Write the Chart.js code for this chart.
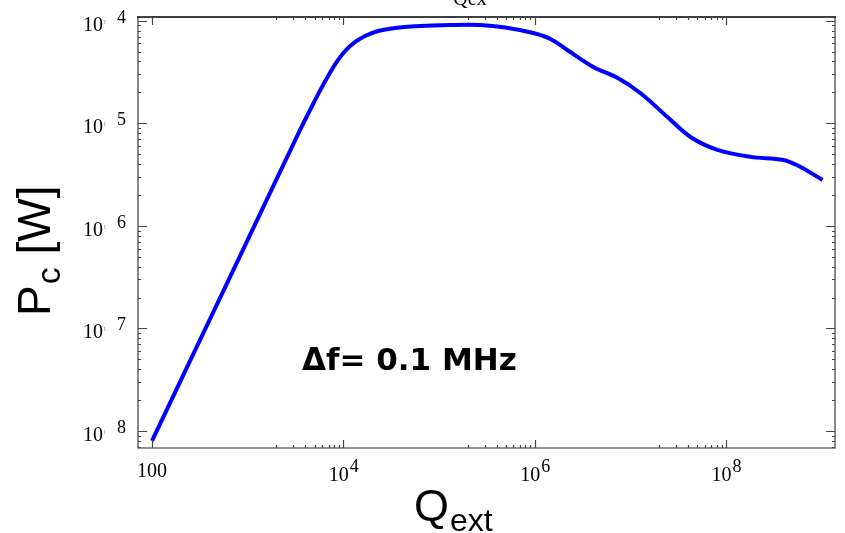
<!DOCTYPE html>
<html>
<head>
<meta charset="utf-8">
<script src="https://cdn.jsdelivr.net/npm/chart.js@4/dist/chart.umd.min.js"></script>
<style>
  html, body { margin: 0; padding: 0; background: #ffffff; }
  #wrap { width: 845px; height: 533px; position: relative; }
</style>
</head>
<body>
<div id="wrap"><canvas id="chart" width="845" height="533"></canvas></div>
<script>
// Coupled power P_c versus external quality factor Q_ext (log-log)
const qext = [1e2, 3.18e2, 1.06e3, 3.53e3, 4.50e3, 5.72e3, 7.28e3, 8.82e3, 1.07e4, 1.33e4,
              1.69e4, 2.31e4, 3.48e4, 5.64e4, 1.31e5, 2.70e5, 4.92e5, 9.66e5, 1.46e6,
              2.19e6, 4.10e6, 7.31e6, 1.27e7, 2.44e7, 4.25e7, 8.13e7, 1.80e8, 3.98e8,
              6.0e8, 1.02e9];
const pc   = [8.0e-9, 7.72e-8, 8.15e-7, 8.60e-6, 1.35e-5, 2.09e-5, 3.13e-5, 4.14e-5, 5.18e-5, 6.20e-5,
              7.09e-5, 7.93e-5, 8.49e-5, 8.82e-5, 9.08e-5, 9.08e-5, 8.59e-5, 7.59e-5, 6.64e-5,
              5.18e-5, 3.54e-5, 2.77e-5, 1.97e-5, 1.15e-5, 7.35e-6, 5.5e-6, 4.7e-6, 4.39e-6,
              3.75e-6, 2.8e-6];

// Axis ticks
const xMajorTicks = [1e2, 1e4, 1e6, 1e8];
const xTickBase   = ['100', '10', '10', '10'];
const xTickExp    = ['', '4', '6', '8'];
const xMinorDecades = [1e3, 1e5, 1e7];
const yMajorTicks = [1e-8, 1e-7, 1e-6, 1e-5, 1e-4];
const yTickExp    = ['8', '7', '6', '5', '4'];
const yMinorDecades = [1e-9, 1e-8, 1e-7, 1e-6, 1e-5];
const minorMultipliers = [2, 3, 4, 5, 6, 7, 8, 9];

const xRange = [71.4, 1.377e9];
const yRange = [6.82e-9, 1.086e-4];

const annotationText = '\u0394f= 0.1 MHz';
const topTitle = 'Qex';

const serif = "'Liberation Serif', 'Times New Roman', serif";
const sans  = "'Liberation Sans', Arial, sans-serif";

function minorList(decades, range) {
  const out = [];
  decades.forEach(d => minorMultipliers.forEach(m => {
    const v = d * m;
    if (v > range[0] && v < range[1]) out.push(v);
  }));
  return out;
}

const framePlugin = {
  id: 'frameAndLabels',
  afterDraw(chart) {
    const ctx = chart.ctx;
    const a = chart.chartArea;
    const xs = chart.scales.x, ys = chart.scales.y;
    ctx.save();

    // frame
    ctx.lineWidth = 1.6;
    ctx.strokeStyle = '#6f6f6f';
    ctx.beginPath();
    ctx.moveTo(a.left, a.top); ctx.lineTo(a.left, a.bottom);
    ctx.lineTo(a.right, a.bottom); ctx.lineTo(a.right, a.top);
    ctx.stroke();
    ctx.strokeStyle = '#000000';
    ctx.beginPath();
    ctx.moveTo(a.left - 1, a.top); ctx.lineTo(a.right + 1, a.top);
    ctx.stroke();

    // tick marks, pointing inward on all four sides
    ctx.lineWidth = 1.2;
    ctx.strokeStyle = '#444444';
    const xMinor = minorList(xMinorDecades, xRange);
    const yMinor = minorList(yMinorDecades, yRange);
    const xt = xMajorTicks.map(v => [v, 8]).concat(xMinor.map(v => [v, 3]));
    const yt = yMajorTicks.map(v => [v, 9]).concat(yMinor.map(v => [v, 3]));
    ctx.beginPath();
    xt.forEach(([v, len]) => {
      const px = Math.round(xs.getPixelForValue(v)) + 0.5;
      ctx.moveTo(px, a.bottom); ctx.lineTo(px, a.bottom - len);
      ctx.moveTo(px, a.top); ctx.lineTo(px, a.top + len);
    });
    yt.forEach(([v, len]) => {
      const py = Math.round(ys.getPixelForValue(v)) + 0.5;
      ctx.moveTo(a.left, py); ctx.lineTo(a.left + len, py);
      ctx.moveTo(a.right, py); ctx.lineTo(a.right - len, py);
    });
    ctx.stroke();

    // x tick labels
    ctx.fillStyle = '#000000';
    ctx.textBaseline = 'alphabetic';
    xMajorTicks.forEach((v, i) => {
      const px = xs.getPixelForValue(v);
      ctx.font = '20px ' + serif;
      const wb = ctx.measureText(xTickBase[i]).width;
      if (!xTickExp[i]) {
        ctx.textAlign = 'center';
        ctx.fillText(xTickBase[i], px, a.bottom + 29);
        return;
      }
      ctx.font = '18px ' + serif;
      const we = ctx.measureText(xTickExp[i]).width;
      const x0 = px - (wb + we) / 2;
      ctx.textAlign = 'left';
      ctx.font = '20px ' + serif;
      ctx.fillText(xTickBase[i], x0, a.bottom + 33);
      ctx.font = '18px ' + serif;
      ctx.fillText(xTickExp[i], x0 + wb + 1, a.bottom + 24);
    });

    // y tick labels
    yMajorTicks.forEach((v, i) => {
      const py = ys.getPixelForValue(v);
      ctx.font = '20px ' + serif;
      ctx.textAlign = 'right';
      ctx.fillText('10', 103, py + 10);
      ctx.textAlign = 'left';
      ctx.font = '10px ' + serif;
      ctx.fillStyle = '#777777';
      ctx.fillText('\u02E1', 104, py + 6);
      ctx.fillStyle = '#000000';
      ctx.font = '18px ' + serif;
      ctx.fillText(yTickExp[i], 117, py + 2);
    });

    // partly visible title at the very top
    ctx.font = '20px ' + serif;
    ctx.textAlign = 'center';
    ctx.fillText(topTitle, 470, 5);

    // x axis title: Q_ext
    ctx.textAlign = 'left';
    ctx.font = '45px ' + sans;
    ctx.fillText('Q', 414, 521);
    const wq = ctx.measureText('Q').width;
    ctx.font = '32px ' + sans;
    ctx.fillText('ext', 414 + wq + 1, 531);

    // y axis title: P_c [W], rotated
    ctx.save();
    ctx.translate(50, 316);
    ctx.rotate(-Math.PI / 2);
    ctx.font = '46px ' + sans;
    ctx.fillText('P', 0, 0);
    const wp = ctx.measureText('P').width;
    ctx.font = '34px ' + sans;
    ctx.fillText('c', wp + 1, 10);
    const wc = ctx.measureText('c').width;
    ctx.font = '46px ' + sans;
    ctx.fillText(' [W]', wp + wc + 1, 0);
    ctx.restore();

    // annotation
    ctx.font = "bold 31px 'DejaVu Sans', sans-serif";
    ctx.textAlign = 'left';
    ctx.fillText(annotationText, 302, 370);

    ctx.restore();
  }
};

new Chart(document.getElementById('chart'), {
  type: 'line',
  data: {
    labels: qext,
    datasets: [{
      data: qext.map((q, i) => ({ x: q, y: pc[i] })),
      borderColor: '#0000ff',
      borderWidth: 4,
      pointRadius: 0,
      fill: false,
      tension: 0.35,
      borderCapStyle: 'butt'
    }]
  },
  options: {
    responsive: false,
    animation: false,
    devicePixelRatio: 1,
    layout: { padding: { left: 138, right: 10, top: 17, bottom: 85 } },
    plugins: { legend: { display: false }, tooltip: { enabled: false }, title: { display: false } },
    scales: {
      x: { type: 'logarithmic', min: xRange[0], max: xRange[1], display: false },
      y: { type: 'logarithmic', min: yRange[0], max: yRange[1], display: false }
    }
  },
  plugins: [framePlugin]
});
</script>
</body>
</html>
